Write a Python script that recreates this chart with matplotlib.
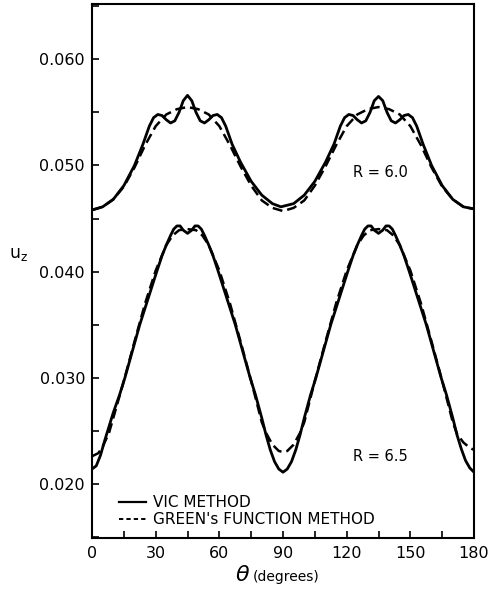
import matplotlib
matplotlib.use("Agg")
import matplotlib.pyplot as plt
from matplotlib.lines import Line2D
from matplotlib.ticker import MultipleLocator, FormatStrFormatter

# R = 6.0, VIC method
theta_vic_60 = [0, 5, 10, 15, 20, 24, 27, 29, 31, 33, 35, 37, 39, 41, 43, 45, 47, 49, 51, 53,
                55, 57, 59, 61, 63, 66, 70, 75, 80, 85, 89, 95, 100, 105, 110, 114, 117, 119,
                121, 123, 125, 127, 129, 131, 133, 135, 137, 139, 141, 143, 145, 147, 149, 151,
                153, 156, 160, 165, 170, 175, 180]
uz_vic_60 = [0.0458, 0.0461, 0.0468, 0.0481, 0.0500, 0.0520, 0.0537, 0.0545, 0.0548, 0.0547,
             0.0543, 0.0540, 0.0542, 0.0550, 0.0561, 0.0566, 0.0561, 0.0550, 0.0542, 0.0540,
             0.0543, 0.0547, 0.0548, 0.0545, 0.0537, 0.0520, 0.0503, 0.0485, 0.0472, 0.0464,
             0.0461, 0.0464, 0.0472, 0.0485, 0.0503, 0.0520, 0.0537, 0.0545, 0.0548, 0.0547,
             0.0543, 0.0540, 0.0542, 0.0550, 0.0561, 0.0565, 0.0561, 0.0550, 0.0542, 0.0540,
             0.0543, 0.0547, 0.0548, 0.0545, 0.0537, 0.0520, 0.0500, 0.0481, 0.0468, 0.0461,
             0.0459]

# R = 6.0, Green's function method
theta_gr_60 = [0, 5, 10, 15, 20, 25, 30, 35, 40, 45, 50, 55, 60, 65, 70, 75, 80, 85, 90,
               95, 100, 105, 110, 115, 120, 125, 130, 135, 140, 145, 150, 155, 160, 165, 170,
               175, 180]
uz_gr_60 = [0.0458, 0.0461, 0.0468, 0.0480, 0.0498, 0.0519, 0.0537, 0.0548, 0.0553, 0.0555,
            0.0553, 0.0548, 0.0537, 0.0519, 0.0499, 0.0481, 0.0467, 0.0460, 0.0457, 0.0460,
            0.0467, 0.0481, 0.0499, 0.0519, 0.0537, 0.0548, 0.0553, 0.0555, 0.0553, 0.0548,
            0.0537, 0.0519, 0.0498, 0.0480, 0.0468, 0.0461, 0.0459]

# R = 6.5, VIC method
theta_vic_65 = [0, 2, 4, 6, 8, 10, 13, 15.5, 19, 22.5, 26.5, 30.5, 33, 35, 37, 38.5, 40, 41.5,
                43, 45, 47, 48.5, 50, 51.5, 53, 55, 57, 59.5, 63.5, 67.5, 71, 74.5, 77, 80,
                82, 84, 86, 88, 90, 92, 94, 96, 98, 100, 103, 105.5, 109, 112.5, 116.5, 120.5,
                123, 125, 127, 128.5, 130, 131.5, 133, 135, 137, 138.5, 140, 141.5, 143, 145,
                147, 149.5, 153.5, 157.5, 161, 164.5, 167, 170, 172, 174, 176, 178, 180]
uz_vic_65 = [0.0214, 0.0217, 0.0227, 0.0241, 0.0254, 0.0267, 0.0284, 0.0300, 0.0325, 0.0350,
             0.0375, 0.0400, 0.0415, 0.0425, 0.0434, 0.0440, 0.0443, 0.0443, 0.0439, 0.0436,
             0.0439, 0.0443, 0.0443, 0.0440, 0.0434, 0.0425, 0.0415, 0.0400, 0.0375, 0.0350,
             0.0325, 0.0300, 0.0284, 0.0262, 0.0246, 0.0232, 0.0221, 0.0214, 0.0211, 0.0214,
             0.0221, 0.0232, 0.0246, 0.0262, 0.0284, 0.0300, 0.0325, 0.0350, 0.0375, 0.0400,
             0.0415, 0.0425, 0.0434, 0.0440, 0.0443, 0.0443, 0.0439, 0.0436, 0.0439, 0.0443,
             0.0443, 0.0440, 0.0434, 0.0425, 0.0415, 0.0400, 0.0375, 0.0350, 0.0325, 0.0300,
             0.0284, 0.0262, 0.0246, 0.0233, 0.0222, 0.0215, 0.0211]

# R = 6.5, Green's function method
theta_gr_65 = [0, 3, 5, 8, 10, 15, 20, 25, 30, 35, 38, 41, 45, 49, 52, 55, 60, 65, 70, 75, 80,
               82, 85, 88, 90, 92, 95, 98, 100, 105, 110, 115, 120, 125, 128, 131, 135, 139,
               142, 145, 150, 155, 160, 165, 170, 172, 175, 178, 180]
uz_gr_65 = [0.0226, 0.0229, 0.0235, 0.0248, 0.0262, 0.0297, 0.0334, 0.0370, 0.0401, 0.0425,
            0.0434, 0.0439, 0.0440, 0.0439, 0.0434, 0.0425, 0.0401, 0.0370, 0.0334, 0.0297,
            0.0258, 0.0248, 0.0237, 0.0231, 0.0230, 0.0231, 0.0237, 0.0248, 0.0258, 0.0297,
            0.0334, 0.0370, 0.0401, 0.0425, 0.0434, 0.0439, 0.0440, 0.0439, 0.0434, 0.0425,
            0.0401, 0.0370, 0.0334, 0.0297, 0.0258, 0.0247, 0.0239, 0.0234, 0.0232]

curve_labels = ["R = 6.0", "R = 6.5"]
legend_labels = ["VIC METHOD", "GREEN's FUNCTION METHOD"]

plt.rcParams['font.family'] = ['DejaVu Sans']

fig = plt.figure(figsize=(4.9, 5.9), dpi=100)
ax = fig.add_axes([0.1878, 0.0881, 0.7796, 0.905])

dash = (4.0, 2.0)
ax.plot(theta_vic_60, uz_vic_60, color='black', lw=2.0, solid_joinstyle='round')
ax.plot(theta_gr_60, uz_gr_60, color='black', lw=1.8, dashes=dash)
ax.plot(theta_vic_65, uz_vic_65, color='black', lw=2.0, solid_joinstyle='round')
ax.plot(theta_gr_65, uz_gr_65, color='black', lw=1.8, dashes=dash)

ax.text(136, 0.0493, curve_labels[0], ha='center', va='center', fontsize=10.5)
ax.text(136, 0.0226, curve_labels[1], ha='center', va='center', fontsize=10.5)

ax.set_xlim(0, 180)
ax.set_ylim(0.0149, 0.0652)
ax.xaxis.set_major_locator(MultipleLocator(30))
ax.xaxis.set_minor_locator(MultipleLocator(15))
ax.yaxis.set_major_locator(MultipleLocator(0.01))
ax.yaxis.set_minor_locator(MultipleLocator(0.005))
ax.yaxis.set_major_formatter(FormatStrFormatter('%.3f'))
ax.tick_params(which='both', direction='in', length=5, width=1.2, labelsize=11.5,
               top=False, right=False)
ax.tick_params(axis='x', pad=6)
ax.tick_params(axis='y', pad=5)
for s in ax.spines.values():
    s.set_linewidth(1.5)

handles = [Line2D([], [], color='black', lw=1.6),
           Line2D([], [], color='black', lw=1.4, dashes=(2.2, 1.6))]
ax.legend(handles, legend_labels, loc='lower left', bbox_to_anchor=(0.07, 0.02),
          frameon=False, fontsize=11, handlelength=1.8, handletextpad=0.45,
          labelspacing=0.15, borderpad=0, borderaxespad=0)

fig.text(0.018, 1 - 254 / 590, r'$\mathregular{u_z}$', fontsize=12.5, va='center', ha='left')
fig.text(243 / 490, 1 - 575 / 590, r'$\theta$', fontsize=16, ha='center', va='center')
fig.text(253 / 490, 1 - 577 / 590, '(degrees)', fontsize=10, ha='left', va='center')

fig.savefig('out.png', dpi=100)
